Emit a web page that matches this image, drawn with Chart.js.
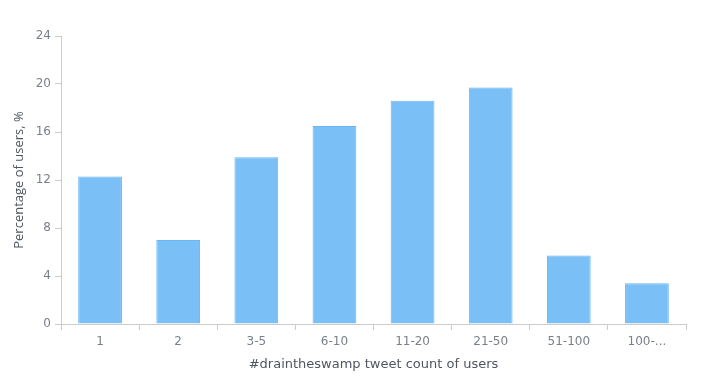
<!DOCTYPE html>
<html>
<head>
<meta charset="utf-8">
<script src="https://cdn.jsdelivr.net/npm/chart.js@4/dist/chart.umd.min.js"></script>
<style>
html,body{margin:0;padding:0;background:#fff;}
#wrap{width:706px;height:381px;position:relative;}
</style>
</head>
<body>
<div id="wrap"><canvas id="c" width="706" height="381"></canvas></div>
<script>
const categories = ["1", "2", "3-5", "6-10", "11-20", "21-50", "51-100", "100-..."];
const percentages = [12.3, 7.0, 13.9, 16.5, 18.6, 19.7, 5.7, 3.4];
const yTicks = [0, 4, 8, 12, 16, 20, 24];

new Chart(document.getElementById('c'), {
  type: 'bar',
  data: {
    labels: categories,
    datasets: [{
      data: percentages,
      backgroundColor: '#7bbff7',
      borderColor: '#6ab5f3',
      borderWidth: 1,
      barPercentage: 0.8,
      categoryPercentage: 0.7
    }]
  },
  options: {
    responsive: false,
    animation: false,
    layout: { padding: { top: 36, right: 20, left: 11, bottom: 9 } },
    plugins: { legend: { display: false }, tooltip: { enabled: false } },
    scales: {
      x: {
        grid: { display: true, drawOnChartArea: false, drawTicks: true, tickLength: 6, color: '#cccccc', offset: true },
        border: { color: '#cccccc', width: 1 },
        ticks: { color: '#7a8089', font: { family: 'DejaVu Sans', size: 12 }, padding: 5, maxRotation: 0 },
        title: { display: true, text: '#draintheswamp tweet count of users', color: '#4f5660', font: { family: 'DejaVu Sans', size: 13 }, padding: { top: 4, bottom: 0 } },
        afterFit: (s) => { s.height = 48; }
      },
      y: {
        min: 0, max: 24,
        afterBuildTicks: (s) => { s.ticks = yTicks.map(v => ({ value: v })); },
        grid: { display: true, drawOnChartArea: false, drawTicks: true, tickLength: 6, color: '#cccccc' },
        border: { color: '#cccccc', width: 1 },
        ticks: { color: '#7a8089', font: { family: 'DejaVu Sans', size: 12 }, padding: 4 },
        title: { display: true, text: 'Percentage of users, %', color: '#4f5660', font: { family: 'Open Sans', size: 13 }, padding: { top: 0, bottom: 4 } },
        afterFit: (s) => { s.width = 50; }
      }
    }
  }
});
</script>
</body>
</html>
